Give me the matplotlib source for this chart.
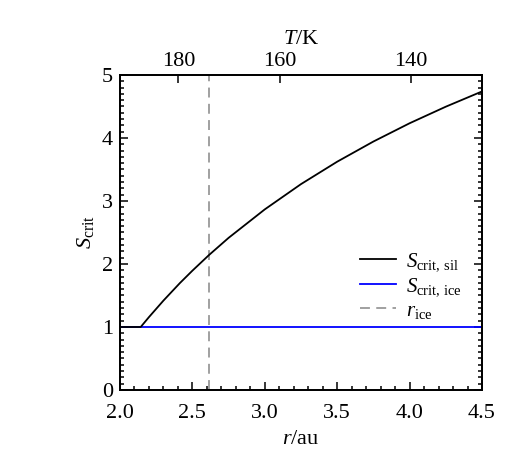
import matplotlib
matplotlib.use("Agg")
import matplotlib.pyplot as plt
from matplotlib.ticker import MultipleLocator

plt.rcParams['font.family'] = ['Liberation Serif', 'DejaVu Serif']
plt.rcParams['mathtext.fontset'] = 'custom'
plt.rcParams['mathtext.rm'] = 'Liberation Serif'
plt.rcParams['mathtext.it'] = 'Liberation Serif:italic'

# data
r_sil = [2.0, 2.143, 2.2, 2.3, 2.414, 2.5, 2.615, 2.75, 3.0, 3.25, 3.5, 3.75, 4.0, 4.25, 4.5]
S_sil = [1.0, 1.0, 1.157, 1.419, 1.698, 1.894, 2.143, 2.415, 2.867, 3.268, 3.624, 3.944, 4.234, 4.497, 4.739]
r_ice_line = [2.0, 4.5]
S_ice = [1.0, 1.0]
r_ice = 2.615
T_ticks = [180, 160, 140]
T_tick_r = [2.403, 3.105, 4.010]

FS = 16

fig = plt.figure(figsize=(5.19, 4.67), dpi=100)
ax = fig.add_axes([0.2312, 0.1649, 0.6975, 0.6745])

ax.plot(r_ice_line, S_ice, color='#0000ff', lw=1.3, zorder=2, label=r'$S_{\rm crit,\,ice}$')
ax.plot(r_sil, S_sil, color='black', lw=1.3, zorder=3, label=r'$S_{\rm crit,\,sil}$')
ax.axvline(r_ice, color='#999999', lw=1.3, dashes=(5.5, 3.5), zorder=1, label=r'$r_{\rm ice}$')

ax.set_xlim(2.0, 4.5)
ax.set_ylim(0.0, 5.0)
ax.set_xticks([2.0, 2.5, 3.0, 3.5, 4.0, 4.5])
ax.set_xticklabels(['2.0', '2.5', '3.0', '3.5', '4.0', '4.5'])
ax.set_yticks([0, 1, 2, 3, 4, 5])
ax.xaxis.set_minor_locator(MultipleLocator(0.1))
ax.yaxis.set_minor_locator(MultipleLocator(0.1))
ax.tick_params(which='both', direction='in', bottom=True, top=False, left=True, right=True,
               labelsize=FS, width=1.1)
ax.tick_params(which='major', length=6)
ax.tick_params(axis='x', which='major', pad=10)
ax.tick_params(axis='y', which='major', pad=5)
ax.tick_params(which='minor', length=3)
for s in ax.spines.values():
    s.set_linewidth(1.3)

ax.set_xlabel(r'$r$/au', fontsize=FS, labelpad=5)
ax.set_ylabel(r'$S_{\rm crit}$', fontsize=FS, labelpad=4)

axt = ax.twiny()
axt.set_xlim(ax.get_xlim())
axt.set_xticks(T_tick_r)
axt.set_xticklabels([str(t) for t in T_ticks])
axt.tick_params(which='both', direction='in', labelsize=FS, length=6, width=1.1, pad=3)
axt.xaxis.set_minor_locator(plt.NullLocator())
axt.set_xlabel(r'$T$/K', fontsize=FS, labelpad=6)
for s in axt.spines.values():
    s.set_linewidth(1.3)

h, l = ax.get_legend_handles_labels()
order = [1, 0, 2]
ax.legend([h[i] for i in order], [l[i] for i in order], frameon=False, fontsize=15,
          loc='center left', bbox_to_anchor=(0.663, 0.330), handlelength=1.73,
          handletextpad=0.5, labelspacing=0.15, borderaxespad=0, borderpad=0)

fig.savefig('out.png', dpi=100)
